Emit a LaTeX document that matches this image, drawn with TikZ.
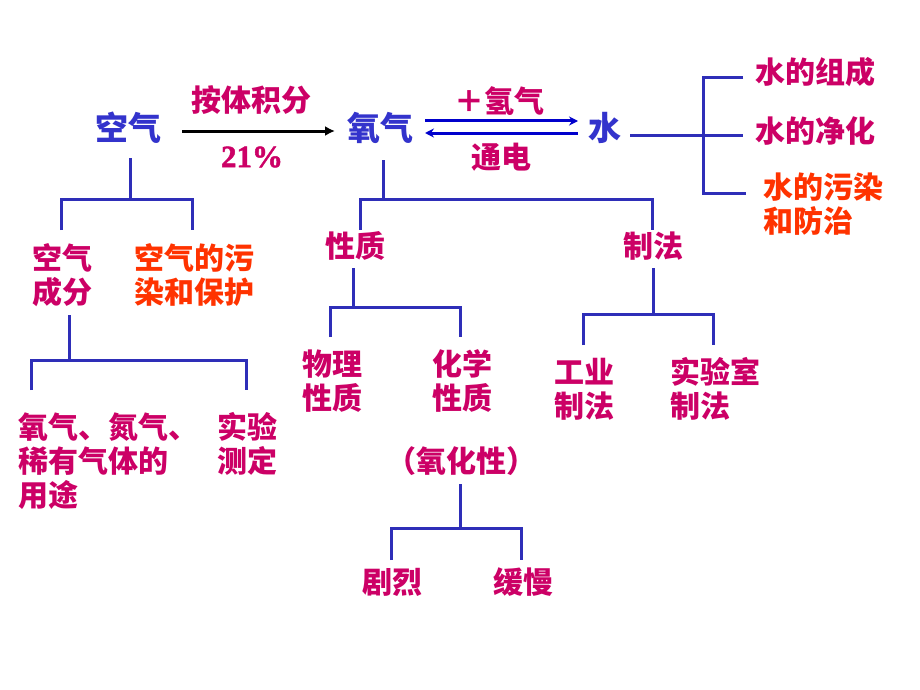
\documentclass[tikz,border=0pt]{standalone}
\usepackage{fontspec}
\setmainfont{Liberation Serif}
\newfontfamily\tnrb{Liberation Serif}[UprightFont={* Bold},FakeBold=1.5]
\newfontfamily\cjk{Noto Sans CJK SC}
\usetikzlibrary{arrows.meta}
\definecolor{tblue}{HTML}{3333CC}
\definecolor{lblue}{HTML}{2E2EB8}
\definecolor{mag}{HTML}{CC0066}
\definecolor{org}{HTML}{FF3300}
\definecolor{ablue}{HTML}{0000CC}
\begin{document}
\begin{tikzpicture}[x=1pt,y=-1pt,
  txt/.style={inner sep=0pt,font=\cjk\bfseries\fontsize{30}{34}\selectfont,align=center},
  bl/.style={inner sep=0pt,font=\cjk\bfseries\fontsize{33}{36}\selectfont,text=tblue},
  mg/.style={txt,text=mag},
  og/.style={txt,text=org},
  br/.style={draw=lblue,line width=3pt}]
\useasboundingbox[fill=white] (0,0) rectangle (920,690);
% top row
\node[bl] (kq) at (128,128) {空气};
\node[mg] (fen) at (251,100) {按体积分};
\node[inner sep=0pt,text=mag,font=\tnrb\fontsize{31}{34}\selectfont] (pct) at (252,157) {21\%};
\node[bl] (yq) at (380,128) {氧气};
\node[mg] (qq) at (499,101) {＋氢气};
\node[mg] (td) at (501,157) {通电};
\node[bl] (sh) at (605,128) {水};
\node[mg] (s1) at (815,72) {水的组成};
\node[mg] (s2) at (815,131) {水的净化};
\node[og,align=left] (s3) at (823,204) {水的污染\\和防治};
% air subtree
\node[mg] (cf) at (62,275) {空气\\成分};
\node[og] (wr) at (194,275) {空气的污\\染和保护};
\node[mg,align=left,anchor=west] (yt) at (18,461) {氧气、氮气、\\稀有气体的\\用途};
\node[mg] (sy) at (247,444) {实验\\测定};
% oxygen subtree
\node[mg] (xz) at (355,246) {性质};
\node[mg] (zf) at (653,246) {制法};
\node[mg] (wl) at (332,381) {物理\\性质};
\node[mg] (hx) at (462,381) {化学\\性质};
\node[mg] (gy) at (584,389) {工业\\制法};
\node[mg,align=left] (sys) at (715,389) {实验室\\制法};
\node[mg] (yh) at (461,461) {（氧化性）};
\node[mg] (jl) at (392,582) {剧烈};
\node[mg] (hm) at (523,582) {缓慢};
% arrows
\coordinate (a1) at (182,131);
\coordinate (a2) at (335,131);
\draw[line width=3pt,-{Latex[length=10pt,width=10pt]}] (a1) -- (a2);
\draw[ablue,line width=3pt,-{Stealth[length=9pt,width=9pt]}] (425,121) -- (578,121);
\draw[ablue,line width=3pt,-{Stealth[length=9pt,width=9pt]}] (578,133) -- (425,133);
% trees
\draw[br] (130,158) -- (130,199);
\draw[br] (61,230) -- (61,199) -- (192,199) -- (192,230);
\draw[br] (69,315) -- (69,360);
\draw[br] (31,390) -- (31,360) -- (246,360) -- (246,390);
\draw[br] (383,160) -- (383,199);
\draw[br] (360,230) -- (360,199) -- (652,199) -- (652,230);
\draw[br] (353,268) -- (353,307);
\draw[br] (330,337) -- (330,307) -- (460,307) -- (460,337);
\draw[br] (653,268) -- (653,314);
\draw[br] (583,345) -- (583,314) -- (713,314) -- (713,345);
\draw[br] (460,484) -- (460,528);
\draw[br] (391,560) -- (391,528) -- (521,528) -- (521,560);
\draw[br] (630,135) -- (743,135);
\draw[br] (743,78) -- (703,78) -- (703,193) -- (746,193);
\end{tikzpicture}
\end{document}
